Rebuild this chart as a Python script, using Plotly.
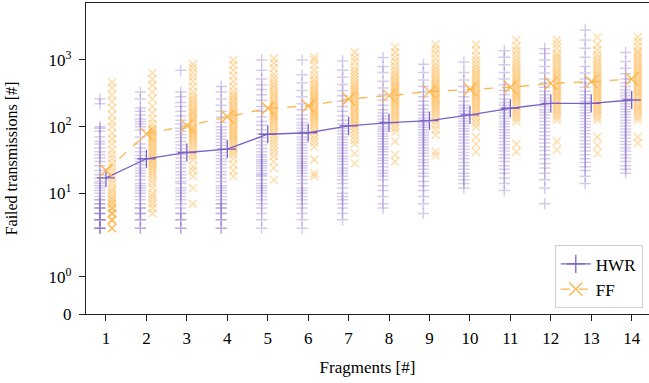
import numpy as np
import plotly.graph_objects as go

fragments = list(range(1, 15))

hwr_mean = [17, 33, 41, 46, 77, 81, 103, 115, 123, 150, 189, 224, 224, 251]
ff_mean = [22, 78, 103, 141, 189, 204, 260, 292, 335, 363, 389, 447, 473, 518]

hwr_trials = {
    1: [3, 3, 3, 3, 4, 4, 4, 4, 5, 5, 5, 6, 6, 6, 7, 7, 8, 8, 9, 10, 11, 12, 13, 14, 15, 17, 19, 22, 26, 30, 34, 38, 42, 48, 55, 60, 70, 85, 95, 100, 220, 260],
    2: [3, 3, 4, 4, 5, 5, 6, 6, 7, 8, 9, 10, 11, 12, 13, 14, 16, 18, 20, 22, 24, 27, 30, 33, 37, 42, 48, 55, 70, 90, 100, 110, 120, 130, 150, 170, 190, 260, 330],
    3: [3, 3, 4, 4, 5, 5, 6, 7, 8, 9, 10, 11, 12, 14, 15, 17, 19, 21, 24, 27, 30, 34, 38, 42, 47, 53, 60, 68, 76, 85, 95, 110, 125, 145, 170, 200, 230, 280, 330, 700],
    4: [3, 3, 4, 4, 5, 5, 6, 6, 7, 7, 8, 9, 10, 11, 12, 13, 15, 17, 19, 21, 24, 27, 30, 33, 37, 41, 46, 52, 58, 65, 72, 80, 90, 100, 115, 140, 170, 210, 260, 330, 400],
    5: [3, 4, 5, 6, 7, 8, 9, 10, 11, 12, 13, 14, 16, 18, 19, 20, 22, 24, 26, 28, 30, 32, 35, 38, 42, 47, 53, 60, 68, 78, 90, 105, 120, 140, 170, 200, 250, 300, 360, 420, 520, 700, 1000],
    6: [3, 4, 5, 6, 7, 8, 9, 10, 11, 12, 14, 16, 18, 20, 22, 24, 26, 28, 30, 33, 36, 40, 44, 48, 53, 58, 64, 70, 78, 86, 95, 105, 115, 130, 150, 180, 220, 280, 350, 450, 600, 1000],
    7: [4, 5, 6, 7, 8, 9, 10, 12, 14, 16, 18, 20, 22, 24, 27, 30, 33, 36, 40, 44, 48, 53, 58, 64, 70, 78, 86, 95, 110, 125, 145, 170, 200, 240, 290, 350, 430, 550, 700, 970],
    8: [6, 7, 9, 11, 13, 16, 18, 20, 22, 25, 28, 31, 34, 38, 42, 46, 50, 55, 60, 66, 72, 78, 85, 92, 100, 110, 120, 130, 145, 160, 180, 210, 250, 300, 380, 480, 650, 800, 1090],
    9: [5, 7, 9, 11, 13, 15, 18, 20, 23, 26, 29, 32, 36, 40, 44, 48, 53, 58, 63, 69, 75, 82, 90, 98, 106, 115, 125, 135, 150, 165, 185, 210, 240, 280, 330, 400, 500, 650, 860],
    10: [12, 14, 16, 18, 20, 23, 26, 29, 33, 37, 41, 46, 51, 57, 63, 70, 77, 85, 93, 102, 112, 122, 133, 145, 158, 172, 190, 210, 240, 280, 330, 400, 500, 650, 930],
    11: [11, 14, 17, 20, 23, 26, 30, 34, 38, 43, 48, 54, 60, 67, 74, 82, 90, 100, 110, 120, 132, 145, 160, 175, 190, 210, 230, 260, 300, 350, 420, 520, 650, 850, 1100, 1380],
    12: [7, 12, 16, 20, 24, 28, 33, 38, 44, 50, 57, 65, 74, 84, 95, 107, 120, 135, 150, 165, 180, 200, 220, 245, 270, 300, 340, 390, 450, 520, 640, 800, 1000, 1250, 1480],
    13: [14, 18, 22, 25, 29, 33, 38, 43, 49, 55, 62, 70, 78, 87, 97, 108, 120, 133, 147, 162, 178, 195, 215, 240, 270, 300, 340, 390, 450, 520, 640, 800, 1100, 1500, 2000, 2800],
    14: [20, 23, 26, 30, 34, 38, 43, 48, 54, 60, 67, 75, 83, 92, 102, 113, 125, 138, 152, 167, 183, 200, 220, 240, 265, 290, 320, 355, 400, 450, 520, 620, 750, 950, 1300],
}

ff_trials = {
    1: [3, 3, 3, 4, 4, 4, 4, 5, 5, 5, 5, 6, 6, 6, 7, 7, 8, 8, 9, 10, 11, 12, 14, 16, 18, 21, 24, 28, 33, 38, 45, 55, 65, 80, 100, 120, 150, 190, 240, 300, 380, 460],
    2: [5, 6, 7, 8, 9, 10, 12, 14, 16, 18, 20, 22, 24, 26, 28, 30, 32, 35, 38, 41, 44, 48, 52, 56, 60, 65, 70, 75, 80, 85, 90, 95, 110, 130, 160, 200, 260, 330, 420, 520, 640],
    3: [7, 12, 18, 22, 25, 32, 36, 40, 45, 50, 55, 60, 65, 70, 75, 80, 85, 90, 95, 100, 110, 120, 130, 140, 150, 160, 170, 185, 200, 220, 240, 260, 290, 330, 400, 480, 560, 650, 760, 860],
    4: [18, 22, 27, 33, 38, 42, 46, 50, 55, 60, 65, 70, 75, 80, 86, 92, 100, 108, 116, 125, 135, 145, 155, 165, 180, 195, 210, 230, 250, 275, 300, 340, 400, 480, 580, 700, 850, 1000],
    5: [16, 24, 30, 36, 42, 48, 55, 62, 70, 78, 86, 95, 105, 115, 125, 135, 145, 155, 165, 175, 190, 205, 220, 240, 260, 285, 310, 340, 380, 420, 470, 540, 620, 750, 900, 1050],
    6: [18, 20, 32, 50, 58, 66, 75, 85, 95, 105, 115, 125, 135, 145, 155, 165, 175, 185, 200, 215, 230, 245, 260, 280, 300, 325, 350, 380, 420, 470, 520, 600, 700, 850, 1000, 1100],
    7: [28, 40, 55, 63, 72, 82, 92, 102, 112, 122, 132, 142, 155, 168, 180, 195, 210, 225, 240, 260, 280, 300, 325, 350, 380, 410, 450, 500, 560, 630, 700, 800, 950, 1100, 1300],
    8: [30, 38, 60, 83, 95, 108, 120, 132, 145, 158, 170, 185, 200, 215, 230, 245, 260, 280, 300, 320, 340, 365, 390, 420, 450, 490, 540, 590, 640, 720, 820, 950, 1100, 1300, 1570],
    9: [37, 42, 75, 90, 105, 120, 135, 150, 165, 180, 195, 210, 225, 240, 255, 270, 290, 310, 330, 350, 375, 400, 430, 460, 500, 540, 590, 650, 720, 800, 900, 1050, 1250, 1450, 1700],
    10: [42, 55, 70, 100, 115, 130, 145, 160, 175, 190, 205, 220, 240, 260, 280, 300, 320, 345, 370, 400, 430, 460, 500, 540, 590, 640, 700, 780, 870, 1000, 1150, 1400, 1700],
    11: [42, 55, 120, 135, 150, 165, 180, 200, 220, 240, 260, 280, 300, 320, 345, 370, 400, 430, 460, 500, 540, 590, 640, 700, 770, 850, 950, 1050, 1200, 1380, 1600, 2000],
    12: [45, 60, 126, 140, 155, 170, 185, 200, 220, 240, 260, 280, 300, 325, 350, 380, 410, 440, 480, 520, 560, 610, 660, 720, 790, 870, 960, 1060, 1160, 1260, 1500, 1750, 2000],
    13: [40, 52, 70, 126, 140, 155, 170, 185, 200, 220, 240, 260, 280, 300, 325, 350, 380, 410, 440, 480, 520, 560, 610, 660, 720, 790, 870, 960, 1060, 1200, 1400, 1700, 2200],
    14: [57, 70, 126, 140, 155, 170, 185, 200, 220, 240, 260, 285, 310, 335, 365, 395, 430, 465, 500, 540, 585, 630, 680, 740, 800, 870, 950, 1040, 1150, 1280, 1380, 1600, 1900, 2200],
}

y_tick_values = [0, 1, 10, 100, 1000]
y_tick_labels = ["0", "10<sup>0</sup>", "10<sup>1</sup>", "10<sup>2</sup>", "10<sup>3</sup>"]

# symmetric-log scale (base 10, linthresh 2, linscale 1) like matplotlib's default
LINTHRESH = 2.0
LINSCALE_ADJ = 1.0 / (1.0 - 1.0 / 10.0)


def symlog(v):
    v = np.asarray(v, dtype=float)
    a = np.abs(v)
    out = np.where(
        a <= LINTHRESH,
        v * LINSCALE_ADJ,
        np.sign(v) * LINTHRESH * (LINSCALE_ADJ + np.log10(np.maximum(a, 1e-12) / LINTHRESH)),
    )
    return out


PURPLE = "#7b61c4"
ORANGE = "#ffb347"
FONT = "'Liberation Serif', 'DejaVu Serif', 'Times New Roman', serif"
OFFSET = 0.15

fig = go.Figure()

hx, hy, fx, fy = [], [], [], []
for f in fragments:
    hx += [f - OFFSET] * len(hwr_trials[f])
    hy += list(hwr_trials[f])
    fx += [f + OFFSET] * len(ff_trials[f])
    fy += list(ff_trials[f])

fig.add_trace(go.Scatter(
    x=hx, y=symlog(hy), mode="markers", showlegend=False, hoverinfo="skip",
    marker=dict(symbol="cross-thin", size=8, color="rgba(0,0,0,0)",
                line=dict(color="rgba(123,97,196,0.32)", width=1.5)),
))
fig.add_trace(go.Scatter(
    x=fx, y=symlog(fy), mode="markers", showlegend=False, hoverinfo="skip",
    marker=dict(symbol="x-thin", size=8, color="rgba(0,0,0,0)",
                line=dict(color="rgba(255,179,71,0.45)", width=1.5)),
))

fig.add_trace(go.Scatter(
    x=fragments, y=symlog(hwr_mean), mode="lines+markers", name="HWR",
    line=dict(color=PURPLE, width=1.3),
    marker=dict(symbol="cross-thin", size=13, color=PURPLE,
                line=dict(color=PURPLE, width=1.3)),
))
fig.add_trace(go.Scatter(
    x=fragments, y=symlog(ff_mean), mode="lines+markers", name="FF",
    line=dict(color=ORANGE, width=1.3, dash="dash"),
    marker=dict(symbol="x-thin", size=13, color=ORANGE,
                line=dict(color=ORANGE, width=1.3)),
))

fig.update_layout(
    width=649, height=383,
    margin=dict(l=86, r=0, t=3, b=69, autoexpand=False),
    paper_bgcolor="white", plot_bgcolor="white",
    font=dict(family=FONT, size=16, color="black"),
    legend=dict(
        x=0.989, y=0.018, xanchor="right", yanchor="bottom",
        bgcolor="white", bordercolor="#d0d0d0", borderwidth=1,
        font=dict(family=FONT, size=17), tracegroupgap=2, itemwidth=30,
    ),
)

fig.update_xaxes(
    range=[0.506, 14.428], automargin=False,
    tickmode="array", tickvals=fragments, ticktext=[str(f) for f in fragments],
    ticks="outside", ticklen=6, tickwidth=1, tickcolor="#222",
    ticklabelstandoff=2,
    showline=True, linecolor="#222", linewidth=1.2, mirror=True,
    showgrid=False, zeroline=False,
    title=dict(text="Fragments [#]", standoff=14, font=dict(family=FONT, size=17)),
    tickfont=dict(family=FONT, size=17),
)
fig.update_yaxes(
    range=[0, 9.33], automargin=False,
    tickmode="array", tickvals=list(symlog(y_tick_values)), ticktext=y_tick_labels,
    ticks="outside", ticklen=6, tickwidth=1, tickcolor="#222",
    ticklabelstandoff=4,
    showline=True, linecolor="#222", linewidth=1.2,
    showgrid=False, zeroline=False,
    title=dict(text="Failed transmissions [#]", standoff=26, font=dict(family=FONT, size=16)),
    tickfont=dict(family=FONT, size=17),
)

fig.write_html(
    "out.html",
    config={"displayModeBar": False},
    post_script="document.body.style.margin='0';document.body.style.overflow='hidden';",
)
